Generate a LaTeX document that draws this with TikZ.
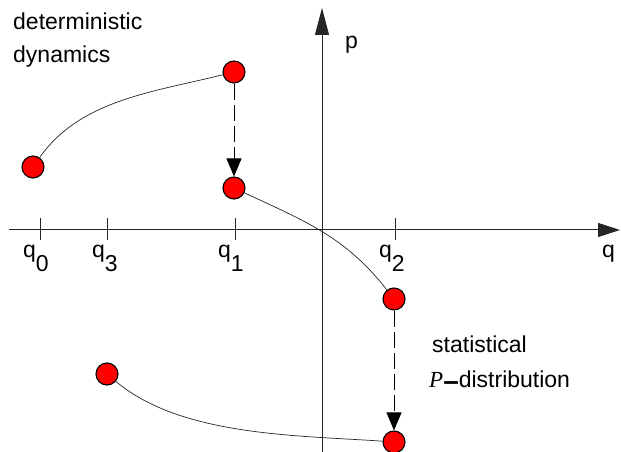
\documentclass[tikz,border=0pt]{standalone}
\usepackage{fontspec}
\setmainfont{Liberation Sans}
\newfontfamily\serifP{Liberation Serif}
\usetikzlibrary{arrows.meta}
\begin{document}
\begin{tikzpicture}[x=1pt,y=1pt,
  axisline/.style={line width=1pt,black!85},
  tickmark/.style={line width=0.9pt,black!85},
  pt/.style={circle,draw=black,fill=red,line width=1.1pt,minimum size=22pt,inner sep=0pt},
  traj/.style={line width=0.7pt,black!85},
  jump/.style={line width=0.9pt,dash pattern=on 16pt off 5pt,-{Triangle[length=18pt,width=15pt]}},
  lbl/.style={anchor=base west,inner sep=0pt,font=\fontsize{23}{27}\selectfont}]
\useasboundingbox (0,0) rectangle (621,452);
% axes
\coordinate (xs) at (9,222);
\coordinate (xe) at (620,222);
\coordinate (ys) at (322,0);
\coordinate (ye) at (322,444);
\draw[axisline,-{Triangle[length=22pt,width=14pt]}] (xs) -- (xe);
\draw[axisline,-{Triangle[length=27pt,width=14pt]}] (ys) -- (ye);
% ticks
\foreach \n/\x in {t0/40,t3/107,t1/235,t2/395}{
  \coordinate (\n a) at (\x,234);
  \coordinate (\n b) at (\x,212);
  \draw[tickmark] (\n a) -- (\n b);
}
% tick labels
\node[lbl] (l0) at (23,194) {q\raisebox{-14pt}{0}};
\node[lbl] (l3) at (92,194) {q\raisebox{-14pt}{3}};
\node[lbl] (l1) at (218,194) {q\raisebox{-14pt}{1}};
\node[lbl] (l2) at (379,194) {q\raisebox{-14pt}{2}};
\node[lbl] (qlab) at (602,194) {q};
\node[lbl] (plab) at (345,403) {p};
% texts
\node[lbl] (det) at (13,422) {deterministic};
\node[lbl] (dyn) at (13,389) {dynamics};
\node[lbl] (stat) at (432,99) {statistical};
\node[lbl] (pdist) at (429,64) {{\serifP\itshape P}\raisebox{-2.5pt}{\bfseries\fontsize{28}{30}\selectfont –}distribution};
% points
\node[pt] (A) at (33,285) {};
\node[pt] (B) at (234,380) {};
\node[pt] (C) at (234,264) {};
\node[pt] (D) at (394,153) {};
\node[pt] (E) at (394,10) {};
\node[pt] (F) at (107,78) {};
% trajectories
\draw[traj] (A) to[out=55,in=194,looseness=0.9] (B);
\draw[traj] (C) to[out=-25,in=128] (D);
\draw[traj] (F) to[out=-40,in=176,looseness=0.8] (E);
% jumps
\draw[jump] (B) -- (C);
\draw[jump] (D) -- (E);
\end{tikzpicture}
\end{document}
